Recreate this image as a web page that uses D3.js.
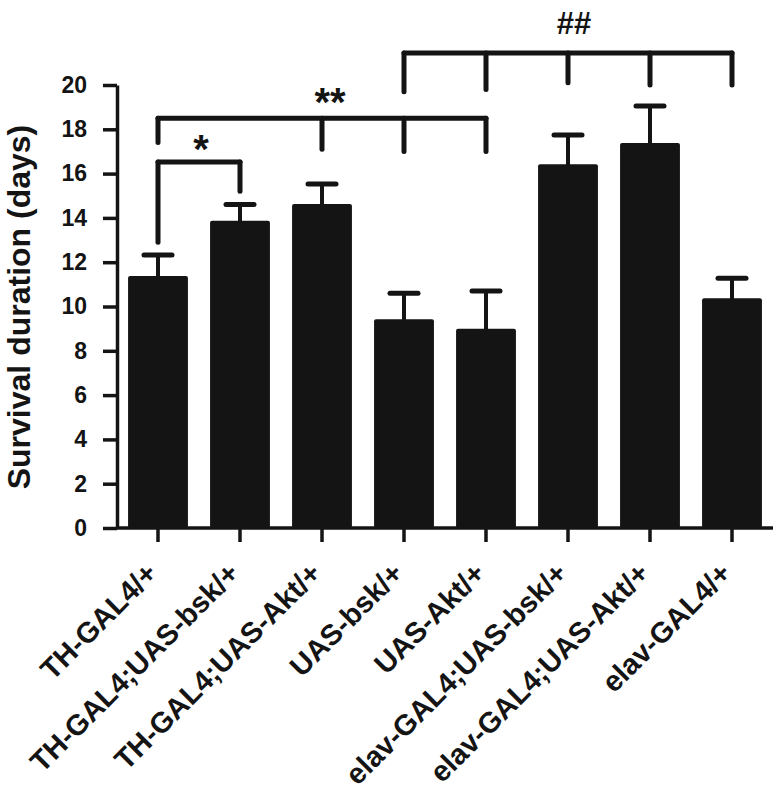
<!DOCTYPE html>
<html>
<head>
<meta charset="utf-8">
<script src="https://cdn.jsdelivr.net/npm/d3@7/dist/d3.min.js"></script>
<style>
  html, body { margin: 0; padding: 0; background: #fff; }
  svg { display: block; }
  text { font-family: "Liberation Sans", Arial, Helvetica, sans-serif; font-weight: bold; fill: #141414; }
</style>
</head>
<body>
<svg id="chart" width="781" height="798"></svg>
<script>
// ---- data ----
const categories = ["TH-GAL4/+", "TH-GAL4;UAS-bsk/+", "TH-GAL4;UAS-Akt/+", "UAS-bsk/+",
                    "UAS-Akt/+", "elav-GAL4;UAS-bsk/+", "elav-GAL4;UAS-Akt/+", "elav-GAL4/+"];
const means  = [11.38, 13.87, 14.63, 9.42, 9.0, 16.42, 17.38, 10.37];
const errors = [0.95, 0.74, 0.90, 1.18, 1.70, 1.32, 1.67, 0.90];
const yTicks = [0, 2, 4, 6, 8, 10, 12, 14, 16, 18, 20];
const yLabel = "Survival duration (days)";
// significance brackets: bar indices, bracket level (data units), leg bottom ends (data units)
const bracketLabels = ["*", "**", "##"];
const bracketBars   = [[0, 1], [0, 2, 3, 4], [3, 4, 5, 6, 7]];
const bracketLevels = [16.52, 18.5, 21.45];
const bracketLegEnds = [[12.9, 15.2], [17.4, 17.1, 17.0, 17.0], [19.7, 19.8, 20.1, 20.0, 20.0]];

(function () {
// ---- layout ----
const svg = d3.select("#chart");
const mLeft = 117, mRight = 773, mTop = 85, mBottom = 528;
const ink = "#141414";

const x = d3.scaleBand().domain(categories).range([mLeft, mRight])
  .paddingInner(0.27).paddingOuter(0.135);
const y = d3.scaleLinear().domain([0, 20]).range([mBottom, mTop]);

const data = categories.map((c, i) => ({ c, m: means[i], e: errors[i] }));

// bars
svg.append("g").selectAll("rect").data(data).join("rect")
  .attr("x", d => x(d.c))
  .attr("y", d => y(d.m))
  .attr("width", x.bandwidth())
  .attr("height", d => y(0) - y(d.m))
  .attr("rx", 2)
  .attr("fill", ink);

// error bars (upper only)
const eb = svg.append("g").attr("stroke", ink).attr("stroke-linecap", "round");
eb.selectAll("line.v").data(data).join("line").attr("class", "v")
  .attr("x1", d => x(d.c) + x.bandwidth() / 2)
  .attr("x2", d => x(d.c) + x.bandwidth() / 2)
  .attr("y1", d => y(d.m))
  .attr("y2", d => y(d.m + d.e))
  .attr("stroke-width", 4);
eb.selectAll("line.cap").data(data).join("line").attr("class", "cap")
  .attr("x1", d => x(d.c) + x.bandwidth() / 2 - 14)
  .attr("x2", d => x(d.c) + x.bandwidth() / 2 + 14)
  .attr("y1", d => y(d.m + d.e))
  .attr("y2", d => y(d.m + d.e))
  .attr("stroke-width", 5);

// axes
const yAxis = svg.append("g").attr("transform", `translate(${mLeft},0)`)
  .call(d3.axisLeft(y).tickValues(yTicks).tickSize(14).tickSizeOuter(0).tickPadding(16));
const xAxis = svg.append("g").attr("transform", `translate(0,${mBottom})`)
  .call(d3.axisBottom(x).tickSize(14).tickSizeOuter(0).tickFormat(""));
[yAxis, xAxis].forEach(a => {
  a.select(".domain").attr("stroke", ink).attr("stroke-width", 3.5);
  a.selectAll(".tick line").attr("stroke", ink).attr("stroke-width", 3.5);
});
xAxis.select(".domain").attr("d", `M${mLeft},0H${mRight}`);
yAxis.selectAll(".tick text")
  .attr("font-size", 23).attr("fill", ink)
  .attr("font-family", '"Liberation Sans", Arial, sans-serif').attr("font-weight", "bold");

// x labels rotated
svg.append("g").selectAll("text").data(categories).join("text")
  .attr("transform", c => `translate(${x(c) + x.bandwidth() / 2 + 1},${mBottom + 47}) rotate(-45)`)
  .attr("text-anchor", "end")
  .attr("font-size", 29)
  .text(c => c);

// y label
svg.append("text")
  .attr("transform", `translate(30,307) rotate(-90)`)
  .attr("text-anchor", "middle")
  .attr("font-size", 32)
  .text(yLabel);

// significance brackets
const cx = i => x(categories[i]) + x.bandwidth() / 2;
const bg = svg.append("g").attr("stroke", ink).attr("stroke-width", 5)
  .attr("stroke-linecap", "round").attr("fill", "none");
bracketBars.forEach((bars, k) => {
  const ly = y(bracketLevels[k]);
  bg.append("line").attr("x1", cx(bars[0])).attr("x2", cx(bars[bars.length - 1]))
    .attr("y1", ly).attr("y2", ly);
  bars.forEach((b, j) => {
    bg.append("line").attr("x1", cx(b)).attr("x2", cx(b))
      .attr("y1", ly).attr("y2", y(bracketLegEnds[k][j]));
  });
});
// bracket labels
const labelPos = [
  { x: (cx(0) + cx(1)) / 2 + 2, y: y(bracketLevels[0]) + 1, size: 40 },
  { x: 330, y: y(bracketLevels[1]) - 2, size: 40 },
  { x: 574, y: 34, size: 31 }
];
svg.append("g").selectAll("text").data(bracketLabels).join("text")
  .attr("x", (d, i) => labelPos[i].x)
  .attr("y", (d, i) => labelPos[i].y)
  .attr("font-size", (d, i) => labelPos[i].size)
  .attr("text-anchor", "middle")
  .text(d => d);
})();
</script>
</body>
</html>
